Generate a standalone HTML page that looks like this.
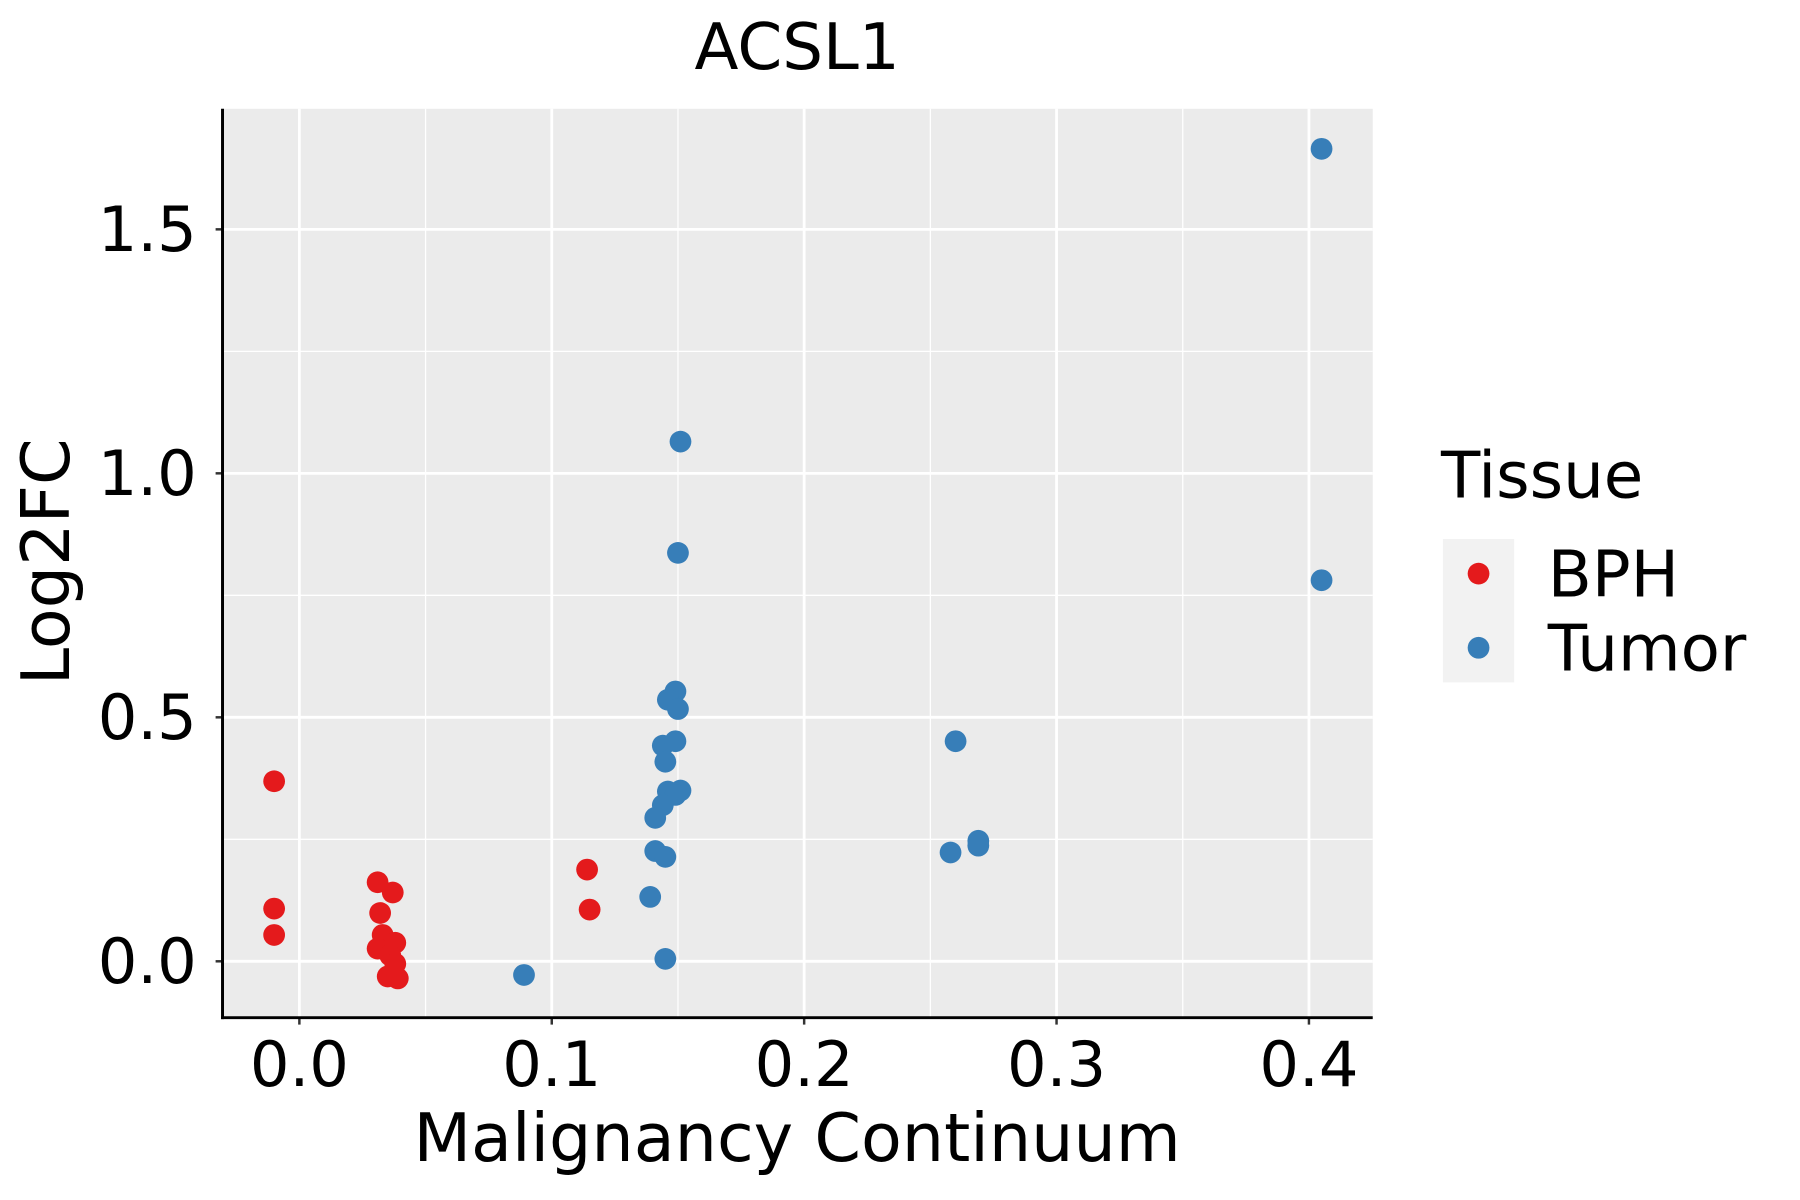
<!DOCTYPE html>
<html><head><meta charset="utf-8"><style>
html,body{margin:0;padding:0;background:#fff;}
svg{display:block;font-family:"DejaVu Sans","Liberation Sans",sans-serif;}
</style></head><body>
<svg id="chart" width="1800" height="1200" viewBox="0 0 1800 1200">
<rect x="0" y="0" width="1800" height="1200" fill="#fff"/>
<g transform="scale(0.989)">
<text x="806" y="70" font-size="65" text-anchor="middle" fill="#000">ACSL1</text>
<rect x="225" y="110" width="1163" height="919" fill="#ebebeb"/>
<g id="grid"></g>
<g id="points"></g>
<g id="axes"></g>
<text x="806" y="1174" font-size="67.5" text-anchor="middle" fill="#000">Malignancy Continuum</text>
<text transform="translate(70,568) rotate(-90)" font-size="67.5" text-anchor="middle" fill="#000">Log2FC</text>
<g>
<text x="1457" y="503" font-size="65" fill="#000">Tissue</text>
<rect x="1459" y="545" width="72" height="145" fill="#f2f2f2"/>
<circle cx="1495" cy="580" r="11" fill="#e41a1c"/>
<circle cx="1495" cy="655" r="11" fill="#377eb8"/>
<text x="1565" y="603" font-size="65" fill="#000">BPH</text>
<text x="1565" y="678" font-size="65" fill="#000">Tumor</text>
</g>
</g>
</svg>
<script>
const bphX=[-0.010,-0.010,-0.010,0.031,0.037,0.032,0.033,0.031,0.038,0.036,0.038,0.035,0.039,0.114,0.115];
const bphY=[0.369,0.108,0.054,0.162,0.141,0.099,0.054,0.026,0.038,0.012,-0.005,-0.031,-0.035,0.188,0.106];
const tumorX=[0.405,0.151,0.150,0.405,0.149,0.146,0.150,0.144,0.149,0.145,0.146,0.151,0.149,0.144,0.141,0.141,0.145,0.139,0.145,0.089,0.260,0.258,0.269,0.269];
const tumorY=[1.665,1.065,0.837,0.781,0.553,0.536,0.517,0.442,0.451,0.409,0.348,0.350,0.341,0.320,0.294,0.226,0.214,0.132,0.005,-0.028,0.451,0.223,0.247,0.237];
const xTicks=[0,0.1,0.2,0.3,0.4];
const xTickLabels=["0.0","0.1","0.2","0.3","0.4"];
const yTicks=[0,0.5,1.0,1.5];
const yTickLabels=["0.0","0.5","1.0","1.5"];
const xMinor=[0.05,0.15,0.25,0.35];
const yMinor=[0.25,0.75,1.25];

const PL=225,PR=1388,PT=110,PB=1029;
function sx(v){return 302.7+v*2552;}
function sy(v){return 972-v*493.4;}
const NS="http://www.w3.org/2000/svg";
function mk(tag,attrs,parent){const e=document.createElementNS(NS,tag);for(const k in attrs)e.setAttribute(k,attrs[k]);parent.appendChild(e);return e;}
const grid=document.getElementById('grid'),pts=document.getElementById('points'),axes=document.getElementById('axes');
xMinor.forEach(v=>{const l=mk('line',{x1:sx(v),x2:sx(v),y1:PT,y2:PB,stroke:'#fff','stroke-width':1.3},grid);

});
yMinor.forEach(v=>{const l=mk('line',{x1:PL,x2:PR,y1:sy(v),y2:sy(v),stroke:'#fff','stroke-width':1.3},grid);

});
xTicks.forEach((v,i)=>{const l=mk('line',{x1:sx(v),x2:sx(v),y1:PT,y2:PB,stroke:'#fff','stroke-width':2.8},grid);


const t=mk('line',{x1:sx(v),x2:sx(v),y1:PB,y2:PB+7,stroke:'#333','stroke-width':2.5},axes);


const tx=mk('text',{x:sx(v),y:1098,'font-size':63,'text-anchor':'middle',fill:'#000'},axes);tx.textContent=xTickLabels[i];

});
yTicks.forEach((v,i)=>{const l=mk('line',{x1:PL,x2:PR,y1:sy(v),y2:sy(v),stroke:'#fff','stroke-width':2.8},grid);


const t=mk('line',{x1:PL-7,x2:PL,y1:sy(v),y2:sy(v),stroke:'#333','stroke-width':2.5},axes);


const tx=mk('text',{x:PL-26,y:sy(v)+22,'font-size':63,'text-anchor':'end',fill:'#000'},axes);tx.textContent=yTickLabels[i];

});
const ax1=mk('line',{x1:PL,x2:PL,y1:PT,y2:PB+1.5,stroke:'#000','stroke-width':3},axes);


const ax2=mk('line',{x1:PL-1.5,x2:PR,y1:PB,y2:PB,stroke:'#000','stroke-width':3},axes);


bphX.forEach((v,i)=>{const c=mk('circle',{cx:sx(v),cy:sy(bphY[i]),r:11,fill:'#e41a1c'},pts);

});
tumorX.forEach((v,i)=>{const c=mk('circle',{cx:sx(v),cy:sy(tumorY[i]),r:11,fill:'#377eb8'},pts);

});
</script>
</body></html>
